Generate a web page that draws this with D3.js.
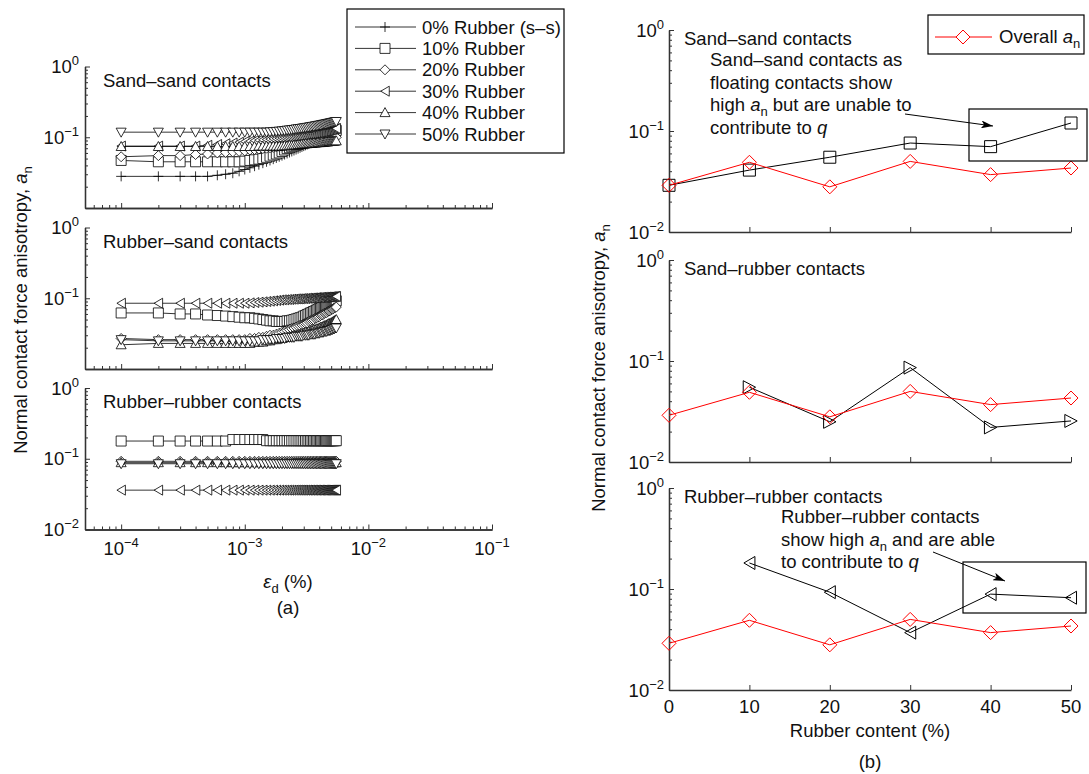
<!DOCTYPE html>
<html>
<head>
<meta charset="utf-8">
<script src="https://cdn.jsdelivr.net/npm/d3@7"></script>
<style>
body { margin: 0; background: #fff; }
text { font-family: "Liberation Sans", Arial, sans-serif; font-size: 18.5px; fill: #111; }
</style>
</head>
<body>
<svg id="chart" width="1089" height="774"></svg>
<script>
// ---- data (a) : strain steps in units of 1e-4 %
var strainSteps = [1,2,3,4,5,6,7,8,9,10,11,12,13,14,15,16,17,18,19,20,21,22,23,24,25,26,27,28,29,30,
  31,32,33,34,35,36,37,38,39,40,41,42,43,44,45,46,47,48,49,50,51,52,53,54,55];

var legendLabels = ["0% Rubber (s–s)", "10% Rubber", "20% Rubber", "30% Rubber", "40% Rubber", "50% Rubber"];
var markerTypes = ["plus", "square", "diamond", "left", "up", "down"];

// sand-sand
var ss0 = [0.028,0.028,0.028,0.028,0.028, 0.029,0.030,0.031,0.033,0.035, 0.037,0.039,0.041,0.043,0.045,
  0.047,0.049,0.051,0.053,0.055, 0.057,0.059,0.061,0.063,0.065, 0.067,0.069,0.071,0.073,0.075,
  0.077,0.079,0.081,0.083,0.085, 0.087,0.088,0.090,0.091,0.093, 0.094,0.095,0.097,0.098,0.099,
  0.100,0.102,0.103,0.104,0.105, 0.107,0.108,0.110,0.112,0.114];
var ss10 = [0.047,0.045,0.045,0.045,0.045, 0.045,0.045,0.045,0.045,0.046, 0.047,0.048,0.049,0.050,0.052,
  0.054,0.056,0.058,0.060,0.063, 0.066,0.069,0.071,0.073,0.075, 0.077,0.079,0.081,0.083,0.085,
  0.087,0.089,0.090,0.092,0.094, 0.095,0.097,0.099,0.100,0.102, 0.103,0.105,0.106,0.108,0.109,
  0.111,0.112,0.114,0.115,0.117, 0.118,0.120,0.121,0.123,0.125];
var ss20 = [0.053,0.055,0.055,0.057,0.058, 0.060,0.061,0.062,0.063,0.064, 0.066,0.067,0.068,0.069,0.070,
  0.071,0.072,0.073,0.074,0.075, 0.076,0.077,0.078,0.079,0.080, 0.081,0.081,0.082,0.083,0.084,
  0.084,0.085,0.086,0.086,0.087, 0.088,0.088,0.089,0.090,0.090, 0.091,0.092,0.092,0.093,0.094,
  0.094,0.095,0.096,0.096,0.097, 0.098,0.098,0.099,0.100,0.100];
var ss30 = [0.075,0.075,0.075,0.075,0.077, 0.079,0.081,0.083,0.085,0.087, 0.088,0.090,0.091,0.092,0.093,
  0.094,0.095,0.096,0.097,0.098, 0.099,0.100,0.101,0.102,0.103, 0.104,0.105,0.106,0.107,0.108,
  0.109,0.110,0.111,0.112,0.113, 0.114,0.115,0.116,0.117,0.118, 0.119,0.120,0.121,0.122,0.123,
  0.124,0.125,0.126,0.127,0.128, 0.129,0.130,0.131,0.132,0.133];
var ss40 = [0.074,0.074,0.074,0.074,0.074, 0.074,0.074,0.074,0.074,0.074, 0.074,0.074,0.075,0.075,0.075,
  0.075,0.075,0.075,0.075,0.075, 0.076,0.076,0.077,0.077,0.078, 0.078,0.079,0.079,0.080,0.080,
  0.081,0.081,0.082,0.082,0.082, 0.083,0.083,0.083,0.084,0.084, 0.084,0.085,0.085,0.085,0.086,
  0.086,0.086,0.087,0.087,0.087, 0.088,0.088,0.088,0.089,0.089];
var ss50 = [0.118,0.118,0.118,0.118,0.118, 0.118,0.118,0.118,0.118,0.118, 0.118,0.118,0.118,0.118,0.118,
  0.119,0.120,0.121,0.122,0.123, 0.124,0.126,0.127,0.128,0.129, 0.131,0.132,0.133,0.134,0.136,
  0.137,0.138,0.139,0.141,0.142, 0.143,0.144,0.146,0.147,0.148, 0.149,0.151,0.152,0.153,0.154,
  0.156,0.157,0.158,0.159,0.161, 0.162,0.163,0.164,0.166,0.167];

// rubber-sand
var rs10 = [0.062,0.062,0.060,0.060,0.058, 0.057,0.056,0.055,0.054,0.053, 0.053,0.052,0.051,0.050,0.049,
  0.048,0.048,0.047,0.047,0.047, 0.047,0.048,0.048,0.049,0.050, 0.051,0.052,0.053,0.054,0.056,
  0.057,0.059,0.060,0.062,0.063, 0.065,0.066,0.068,0.069,0.071, 0.072,0.074,0.075,0.077,0.078,
  0.080,0.081,0.083,0.084,0.086, 0.087,0.088,0.089,0.090,0.092];
var rs20 = [0.027,0.026,0.026,0.026,0.026, 0.026,0.026,0.026,0.026,0.026, 0.027,0.027,0.028,0.028,0.029,
  0.030,0.030,0.031,0.032,0.033, 0.034,0.035,0.036,0.037,0.038, 0.039,0.040,0.041,0.042,0.043,
  0.044,0.045,0.047,0.048,0.049, 0.050,0.052,0.053,0.054,0.055, 0.057,0.058,0.059,0.061,0.062,
  0.063,0.065,0.066,0.067,0.069, 0.070,0.071,0.073,0.074,0.075];
var rs30 = [0.085,0.085,0.085,0.085,0.085, 0.085,0.085,0.085,0.085,0.085, 0.086,0.087,0.088,0.089,0.090,
  0.091,0.092,0.093,0.094,0.095, 0.095,0.096,0.096,0.097,0.097, 0.098,0.098,0.098,0.099,0.099,
  0.099,0.100,0.100,0.100,0.101, 0.101,0.101,0.102,0.102,0.102, 0.102,0.103,0.103,0.103,0.103,
  0.104,0.104,0.104,0.104,0.105, 0.105,0.105,0.105,0.106,0.106];
var rs40 = [0.022,0.023,0.023,0.023,0.023, 0.023,0.023,0.023,0.023,0.023, 0.023,0.024,0.024,0.024,0.025,
  0.025,0.026,0.026,0.027,0.027, 0.028,0.028,0.029,0.029,0.030, 0.030,0.031,0.031,0.032,0.032,
  0.033,0.033,0.034,0.034,0.035, 0.036,0.036,0.037,0.037,0.038, 0.039,0.039,0.040,0.041,0.041,
  0.042,0.043,0.044,0.044,0.045, 0.046,0.047,0.048,0.049,0.050];
var rs50 = [0.026,0.025,0.025,0.025,0.025, 0.025,0.025,0.025,0.025,0.025, 0.025,0.025,0.025,0.026,0.026,
  0.026,0.026,0.027,0.027,0.027, 0.027,0.028,0.028,0.028,0.028, 0.029,0.029,0.029,0.029,0.030,
  0.030,0.030,0.030,0.031,0.031, 0.031,0.031,0.032,0.032,0.032, 0.033,0.033,0.033,0.034,0.034,
  0.034,0.035,0.035,0.035,0.036, 0.036,0.037,0.037,0.038,0.038];

// rubber-rubber
var rr10 = [0.178,0.178,0.178,0.178,0.178, 0.178,0.178,0.187,0.187,0.187, 0.187,0.187,0.187,0.187,0.180,
  0.180,0.180,0.180,0.180,0.180, 0.180,0.180,0.180,0.180,0.180, 0.180,0.180,0.180,0.180,0.180,
  0.180,0.180,0.180,0.180,0.180, 0.180,0.180,0.180,0.180,0.180, 0.180,0.180,0.180,0.180,0.180,
  0.180,0.180,0.180,0.180,0.180, 0.180,0.180,0.180,0.180,0.180];
var rr20 = [0.092,0.092,0.092,0.092,0.092, 0.092,0.092,0.092,0.092,0.092, 0.092,0.092,0.092,0.092,0.092,
  0.092,0.092,0.092,0.092,0.092, 0.092,0.092,0.092,0.092,0.092, 0.092,0.092,0.092,0.092,0.092,
  0.092,0.092,0.092,0.092,0.092, 0.092,0.092,0.092,0.092,0.092, 0.092,0.092,0.092,0.092,0.092,
  0.092,0.092,0.092,0.092,0.092, 0.092,0.092,0.092,0.092,0.092];
var rr30 = [0.036,0.036,0.036,0.036,0.036, 0.036,0.036,0.036,0.036,0.036, 0.036,0.036,0.036,0.036,0.036,
  0.036,0.036,0.036,0.036,0.036, 0.036,0.036,0.036,0.036,0.036, 0.036,0.036,0.036,0.036,0.036,
  0.036,0.036,0.036,0.036,0.036, 0.036,0.036,0.036,0.036,0.036, 0.036,0.036,0.036,0.036,0.036,
  0.036,0.036,0.036,0.036,0.036, 0.036,0.036,0.036,0.036,0.036];
var rr40 = [0.088,0.088,0.088,0.088,0.088, 0.088,0.088,0.088,0.088,0.088, 0.088,0.088,0.088,0.088,0.088,
  0.088,0.088,0.088,0.088,0.088, 0.088,0.088,0.088,0.088,0.088, 0.088,0.088,0.088,0.088,0.088,
  0.088,0.088,0.088,0.088,0.088, 0.088,0.088,0.088,0.088,0.088, 0.088,0.088,0.088,0.088,0.088,
  0.088,0.088,0.088,0.088,0.088, 0.088,0.088,0.088,0.088,0.088];
var rr50 = [0.085,0.085,0.085,0.085,0.085, 0.085,0.085,0.085,0.085,0.085, 0.085,0.085,0.085,0.085,0.085,
  0.085,0.085,0.085,0.085,0.085, 0.085,0.085,0.085,0.085,0.085, 0.085,0.085,0.085,0.085,0.085,
  0.085,0.085,0.085,0.085,0.085, 0.085,0.085,0.085,0.085,0.085, 0.085,0.085,0.085,0.085,0.085,
  0.085,0.085,0.085,0.085,0.085, 0.085,0.085,0.085,0.085,0.085];

// ---- data (b)
var rubberContent = [0, 10, 20, 30, 40, 50];
var overallAn = [0.029, 0.049, 0.028, 0.050, 0.037, 0.043];
var sandSandAn = [0.029, 0.041, 0.055, 0.076, 0.070, 0.120];
var sandRubberAn = [null, 0.055, 0.025, 0.086, 0.022, 0.0255];
var rubberRubberAn = [null, 0.181, 0.093, 0.037, 0.089, 0.082];

var svg = d3.select("#chart");

svg.append("defs").append("marker")
    .attr("id", "arrow")
    .attr("viewBox", "0 0 12 8")
    .attr("refX", 12).attr("refY", 4)
    .attr("markerWidth", 12).attr("markerHeight", 8)
    .attr("markerUnits", "userSpaceOnUse")
    .attr("orient", "auto")
  .append("path")
    .attr("d", "M0,0L12,4L0,8L3,4Z")
    .attr("fill", "#000");

function markerPath(type, r) {
  switch (type) {
    case "plus": return "M" + (-r) + ",0H" + r + "M0," + (-r) + "V" + r;
    case "square": return "M" + (-r) + "," + (-r) + "H" + r + "V" + r + "H" + (-r) + "Z";
    case "diamond": return "M0," + (-r) + "L" + r + ",0L0," + r + "L" + (-r) + ",0Z";
    case "left": return "M" + (-0.85 * r) + ",0L" + (0.85 * r) + "," + (-r) + "V" + r + "Z";
    case "right": return "M" + (0.95 * r) + ",0L" + (-0.95 * r) + "," + (-r) + "V" + r + "Z";
    case "up": return "M0," + (-r) + "L" + r + "," + (0.8 * r) + "H" + (-r) + "Z";
    case "down": return "M0," + r + "L" + r + "," + (-0.8 * r) + "H" + (-r) + "Z";
  }
}

// text with italic / subscript / superscript parts
function rich(parent, x, y, parts) {
  var t = parent.append("text").attr("x", x).attr("y", y);
  var shift = 0;
  parts.forEach(function(p) {
    var s = t.append("tspan").text(p[0]);
    var target = p[1] === "sub" ? 5 : (p[1] === "sup" ? -8 : 0);
    if (target !== shift) { s.attr("dy", target - shift); shift = target; }
    if (p[1] === "i") s.style("font-style", "italic");
    if (p[1] === "sub" || p[1] === "sup") s.style("font-size", "13px");
  });
  return t;
}

function powParts(e) {
  return [["10", ""], [e === 0 ? "0" : "\u2212" + (-e), "sup"]];
}

var yMajor = [0.01, 0.1, 1];
var yMinor = [];
[0.01, 0.1].forEach(function(d) { for (var m = 2; m <= 9; m++) yMinor.push(d * m); });

function drawYAxis(y, x0, labels, padRight) {
  svg.append("g").attr("transform", "translate(" + x0 + ",0)")
    .call(d3.axisLeft(y).tickValues(yMinor).tickSize(-3).tickSizeOuter(0).tickFormat(""));
  svg.append("g").attr("transform", "translate(" + x0 + ",0)")
    .call(d3.axisLeft(y).tickValues(yMajor).tickSize(-5).tickSizeOuter(0).tickFormat(""));
  labels.forEach(function(e) {
    rich(svg, x0 - padRight, y(Math.pow(10, e)) + 6.5, powParts(e)).attr("text-anchor", "end");
  });
}

// ---------- panel (a)
var xStrain = d3.scaleLog().domain([5.1e-5, 0.1]).range([85, 492]);
var xMajor = [1e-4, 1e-3, 1e-2, 1e-1];
var xMinor = [6e-5, 7e-5, 8e-5, 9e-5];
[1e-4, 1e-3, 1e-2].forEach(function(d) { for (var m = 2; m <= 9; m++) xMinor.push(d * m); });

var leftPanels = [
  { top: 66.5, title: "Sand–sand contacts", labels: [0, -1],
    series: [[ss0, 0], [ss10, 1], [ss20, 2], [ss30, 3], [ss40, 4], [ss50, 5]] },
  { top: 227.5, title: "Rubber–sand contacts", labels: [0, -1],
    series: [[rs10, 1], [rs20, 2], [rs30, 3], [rs40, 4], [rs50, 5]] },
  { top: 388, title: "Rubber–rubber contacts", labels: [0, -1, -2],
    series: [[rr10, 1], [rr20, 2], [rr30, 3], [rr40, 4], [rr50, 5]] }
];
var leftH = 141.5;

leftPanels.forEach(function(p, pi) {
  var y = d3.scaleLog().domain([0.01, 1]).range([p.top + leftH, p.top]);
  var bottom = p.top + leftH;
  svg.append("g").attr("transform", "translate(0," + bottom + ")")
    .call(d3.axisBottom(xStrain).tickValues(xMinor).tickSize(-3).tickSizeOuter(0).tickFormat(""));
  svg.append("g").attr("transform", "translate(0," + bottom + ")")
    .call(d3.axisBottom(xStrain).tickValues(xMajor).tickSize(-5).tickSizeOuter(0).tickFormat(""));
  drawYAxis(y, 85, p.labels, 6);

  svg.append("text").attr("x", 103).attr("y", p.top + 20).text(p.title);

  var line = d3.line()
    .x(function(d, i) { return xStrain(strainSteps[i] * 1e-4); })
    .y(function(d) { return y(d); });

  p.series.forEach(function(s) {
    var g = svg.append("g");
    g.append("path").attr("d", line(s[0]))
      .attr("fill", "none").attr("stroke", "#000").attr("stroke-width", 0.8);
    g.selectAll("path.m").data(s[0]).enter().append("path")
      .attr("class", "m")
      .attr("transform", function(d, i) {
        return "translate(" + xStrain(strainSteps[i] * 1e-4) + "," + y(d) + ")";
      })
      .attr("d", markerPath(markerTypes[s[1]], 5))
      .attr("fill", "#fff").attr("stroke", "#000").attr("stroke-width", 0.8);
  });

  if (pi === 2) {
    xMajor.forEach(function(v) {
      rich(svg, xStrain(v), bottom + 25, powParts(Math.round(Math.log10(v)))).attr("text-anchor", "middle");
    });
  }
});

rich(svg, 288, 588, [["\u03b5", "i"], ["d", "sub"], [" (%)", ""]]).attr("text-anchor", "middle");
svg.append("text").attr("x", 288).attr("y", 614).attr("text-anchor", "middle").text("(a)");
rich(svg, 0, 0, [["Normal contact force anisotropy, ", ""], ["a", "i"], ["n", "sub"]])
  .attr("text-anchor", "middle").attr("transform", "translate(27,310) rotate(-90)");

// legend (a)
svg.append("rect").attr("x", 347).attr("y", 9).attr("width", 217).attr("height", 144)
  .attr("fill", "#fff").attr("stroke", "#000").attr("stroke-width", 1.2);
legendLabels.forEach(function(lab, i) {
  var ly = 27 + i * 21.4;
  svg.append("line").attr("x1", 355).attr("x2", 416).attr("y1", ly).attr("y2", ly)
    .attr("stroke", "#000").attr("stroke-width", 0.8);
  svg.append("path").attr("transform", "translate(385," + ly + ")")
    .attr("d", markerPath(markerTypes[i], 5))
    .attr("fill", "#fff").attr("stroke", "#000").attr("stroke-width", 0.8);
  svg.append("text").attr("x", 422).attr("y", ly + 6.5).text(lab);
});

// ---------- panel (b)
var xRub = d3.scaleLinear().domain([0, 50]).range([669, 1071]);
var rightPanels = [
  { top: 30, title: "Sand–sand contacts", values: sandSandAn, marker: "square", r: 6 },
  { top: 260, title: "Sand–rubber contacts", values: sandRubberAn, marker: "right", r: 6.5 },
  { top: 488, title: "Rubber–rubber contacts", values: rubberRubberAn, marker: "left", r: 6.5 }
];
var rightH = 202;

rightPanels.forEach(function(p, pi) {
  var y = d3.scaleLog().domain([0.01, 1]).range([p.top + rightH, p.top]);
  var bottom = p.top + rightH;
  svg.append("g").attr("transform", "translate(0," + bottom + ")")
    .call(d3.axisBottom(xRub).tickValues(rubberContent).tickSize(-5).tickSizeOuter(0).tickFormat(""));
  drawYAxis(y, 669, [0, -1, -2], 5);

  svg.append("text").attr("x", 684).attr("y", p.top + 15).text(p.title);

  var pts = rubberContent.map(function(c, i) { return [c, p.values[i]]; })
    .filter(function(d) { return d[1] != null; });
  var line = d3.line().x(function(d) { return xRub(d[0]); }).y(function(d) { return y(d[1]); });
  svg.append("path").attr("d", line(pts))
    .attr("fill", "none").attr("stroke", "#000").attr("stroke-width", 1);
  svg.selectAll(null).data(pts).enter().append("path")
    .attr("transform", function(d) { return "translate(" + xRub(d[0]) + "," + y(d[1]) + ")"; })
    .attr("d", markerPath(p.marker, p.r))
    .attr("fill", "none").attr("stroke", "#000").attr("stroke-width", 1);

  var opts = rubberContent.map(function(c, i) { return [c, overallAn[i]]; });
  svg.append("path").attr("d", line(opts))
    .attr("fill", "none").attr("stroke", "#ff0000").attr("stroke-width", 1);
  svg.selectAll(null).data(opts).enter().append("path")
    .attr("transform", function(d) { return "translate(" + xRub(d[0]) + "," + y(d[1]) + ")"; })
    .attr("d", markerPath("diamond", 7))
    .attr("fill", "none").attr("stroke", "#ff0000").attr("stroke-width", 1);

  if (pi === 2) {
    rubberContent.forEach(function(c) {
      svg.append("text").attr("x", xRub(c)).attr("y", bottom + 23)
        .attr("text-anchor", "middle").text(c);
    });
  }
});

svg.append("text").attr("x", 870).attr("y", 737).attr("text-anchor", "middle").text("Rubber content (%)");
svg.append("text").attr("x", 870).attr("y", 768).attr("text-anchor", "middle").text("(b)");
rich(svg, 0, 0, [["Normal contact force anisotropy, ", ""], ["a", "i"], ["n", "sub"]])
  .attr("text-anchor", "middle").attr("transform", "translate(605,368) rotate(-90)");

// legend (b)
svg.append("rect").attr("x", 928).attr("y", 15).attr("width", 156).attr("height", 39)
  .attr("fill", "#fff").attr("stroke", "#000").attr("stroke-width", 1.2);
svg.append("line").attr("x1", 935).attr("x2", 992).attr("y1", 37).attr("y2", 37)
  .attr("stroke", "#ff0000").attr("stroke-width", 1);
svg.append("path").attr("transform", "translate(963,37)").attr("d", markerPath("diamond", 7))
  .attr("fill", "#fff").attr("stroke", "#ff0000").attr("stroke-width", 1);
rich(svg, 999, 43, [["Overall ", ""], ["a", "i"], ["n", "sub"]]);

// annotations
var noteTop = [
  [["Sand–sand contacts as", ""]],
  [["floating contacts show", ""]],
  [["high ", ""], ["a", "i"], ["n", "sub"], [" but are unable to", ""]],
  [["contribute to ", ""], ["q", "i"]]
];
noteTop.forEach(function(parts, i) { rich(svg, 710, 66 + i * 22.5, parts); });
svg.append("rect").attr("x", 969).attr("y", 109).attr("width", 118).attr("height", 52)
  .attr("fill", "none").attr("stroke", "#000").attr("stroke-width", 1.2);
svg.append("line").attr("x1", 905).attr("y1", 114).attr("x2", 993).attr("y2", 126)
  .attr("stroke", "#000").attr("stroke-width", 1).attr("marker-end", "url(#arrow)");

var noteBottom = [
  [["Rubber–rubber contacts", ""]],
  [["show high ", ""], ["a", "i"], ["n", "sub"], [" and are able", ""]],
  [["to contribute to ", ""], ["q", "i"]]
];
noteBottom.forEach(function(parts, i) { rich(svg, 781, 523 + i * 22.5, parts); });
svg.append("rect").attr("x", 963).attr("y", 562).attr("width", 123).attr("height", 51)
  .attr("fill", "none").attr("stroke", "#000").attr("stroke-width", 1.2);
svg.append("line").attr("x1", 933).attr("y1", 552).attr("x2", 1005).attr("y2", 581)
  .attr("stroke", "#000").attr("stroke-width", 1).attr("marker-end", "url(#arrow)");

svg.selectAll(".domain").attr("stroke", "#333").attr("stroke-width", 1.3);
svg.selectAll(".tick line").attr("stroke", "#333");
</script>
</body>
</html>
